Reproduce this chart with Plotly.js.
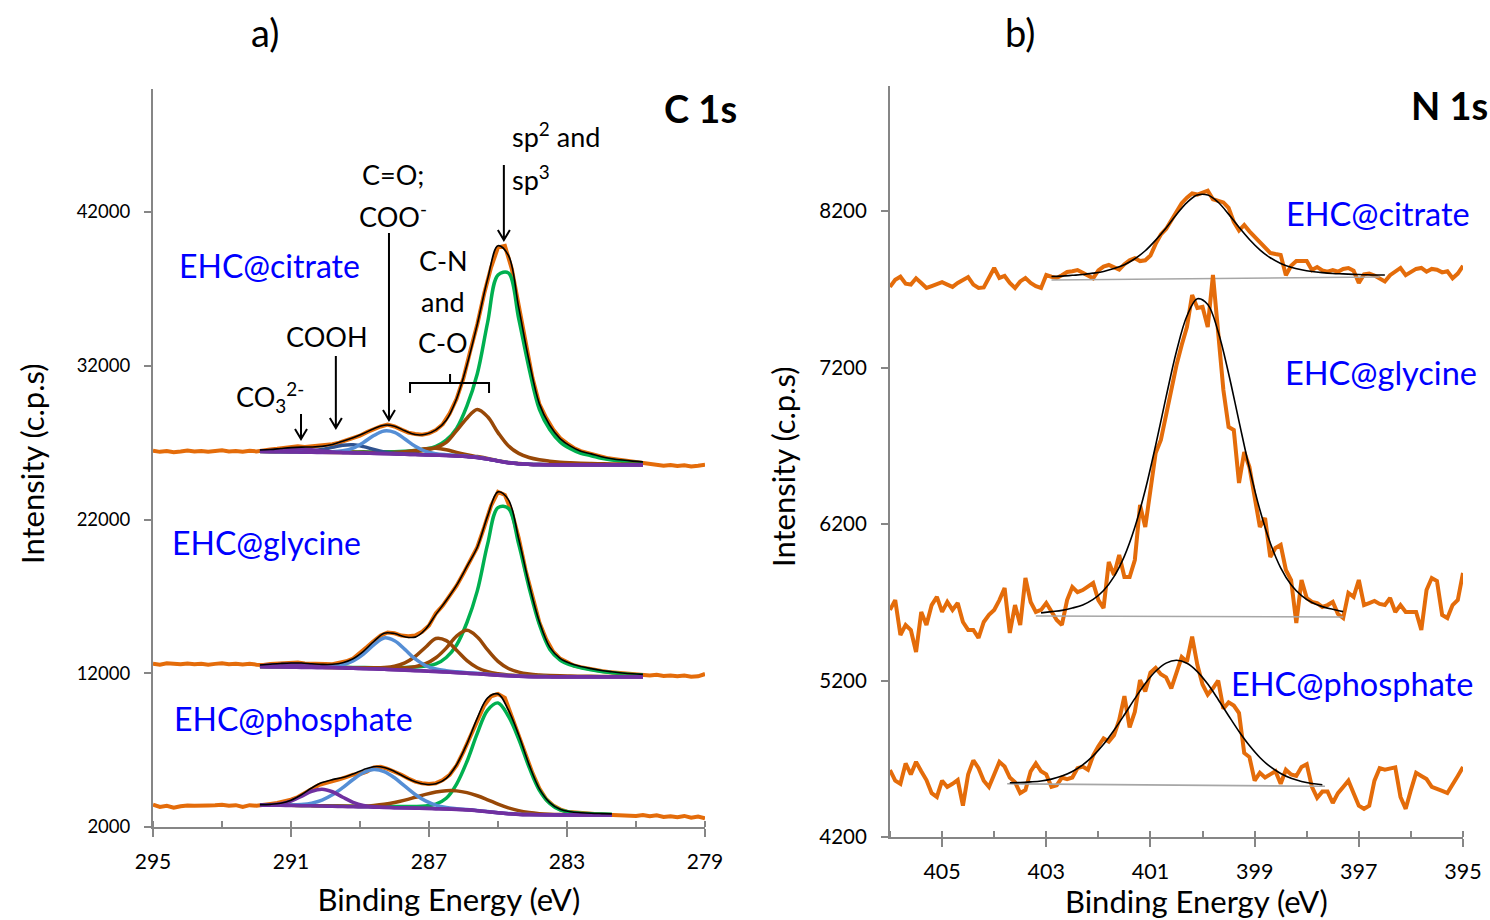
<!DOCTYPE html>
<html>
<head>
<meta charset="utf-8">
<script src="https://cdn.plot.ly/plotly-3.0.1.min.js"></script>
<style>html,body{margin:0;padding:0;background:#fff;}#chart{width:1490px;height:920px;}</style>
</head>
<body>
<div id="chart"></div>
<script>
// ---------- C 1s (panel a) ----------
const c1sEnergy = [295.0,294.8,294.6,294.4,294.2,294.0,293.8,293.6,293.4,293.2,293.0,292.8,292.6,292.4,292.2,292.0,291.8,291.6,291.4,291.2,291.0,290.8,290.6,290.4,290.2,290.0,289.8,289.6,289.4,289.2,289.0,288.8,288.6,288.4,288.2,288.0,287.8,287.6,287.4,287.2,287.0,286.8,286.6,286.4,286.2,286.0,285.8,285.6,285.4,285.2,285.0,284.8,284.6,284.4,284.2,284.0,283.8,283.6,283.4,283.2,283.0,282.8,282.6,282.4,282.2,282.0,281.8,281.6,281.4,281.2,281.0,280.8,280.6,280.4,280.2,280.0,279.8,279.6,279.4,279.2,279.0];

const c1sCitrateRaw = [26480,26400,26450,26380,26420,26480,26430,26460,26410,26470,26500,26430,26460,26400,26470,26430,26520,26560,26600,26650,26700,26760,26720,26750,26790,26820,26900,27000,27150,27300,27450,27680,27900,28050,28180,28050,27850,27650,27560,27520,27600,27820,28200,28900,29850,31200,33000,34700,36700,38400,39700,39800,38300,35900,33400,31200,29500,28600,27850,27300,26950,26650,26450,26320,26180,26060,25980,25920,25860,25800,25760,25680,25600,25560,25500,25550,25480,25520,25450,25500,25560];
const c1sGlycineRaw = [12620,12560,12650,12600,12580,12640,12590,12620,12560,12610,12650,12590,12620,12570,12610,12560,12540,12600,12630,12680,12660,12700,12640,12620,12560,12600,12590,12660,12780,12950,13300,13700,14100,14450,14650,14600,14450,14400,14450,14700,15100,15900,16400,17000,17700,18500,19400,20200,21500,22900,23800,23600,22500,20800,18700,16900,15300,14200,13400,12950,12700,12500,12400,12300,12230,12150,12080,12050,11980,11950,11920,11880,11850,11900,11820,11860,11800,11850,11780,11800,11950];
const c1sPhosphateRaw = [3450,3300,3380,3250,3350,3400,3380,3420,3400,3410,3450,3380,3420,3300,3420,3380,3470,3500,3560,3650,3780,3950,4200,4450,4720,4850,4950,5100,5250,5400,5450,5600,5880,5920,5780,5600,5400,5150,4950,4850,4800,4850,5050,5400,6000,6900,7900,9050,9900,10500,10650,10400,9150,8000,6700,5500,4500,3800,3400,3150,3000,2950,2900,2870,2850,2820,2800,2780,2760,2800,2720,2780,2700,2760,2650,2700,2640,2720,2600,2680,2560];

// fit grid (components = background + peak)
const fitEnergy = [291.9,291.6,291.3,291.0,290.7,290.4,290.1,289.8,289.5,289.2,288.9,288.6,288.3,288.0,287.7,287.4,287.1,286.8,286.5,286.2,285.9,285.6,285.3,285.0,284.7,284.4,284.1,283.8,283.5,283.2,282.9,282.6,282.3,282.0,281.7,281.4,281.1,280.8];

// citrate
const citBackground = [26420,26410,26400,26390,26380,26370,26360,26350,26340,26330,26320,26300,26280,26260,26240,26220,26200,26180,26160,26130,26090,26030,25930,25800,25690,25620,25585,25565,25555,25550,25550,25550,25550,25550,25550,25550,25550,25550];
const citSp2 = [26438,26430,26423,26416,26410,26405,26400,26397,26395,26395,26400,26395,26400,26410,26440,26490,26580,26750,27160,27930,29390,31480,34830,37900,38040,35070,31835,29165,27855,27050,26600,26300,26150,25980,25870,25790,25730,25690];
const citCN1 = [26440,26430,26422,26414,26406,26398,26390,26383,26377,26372,26370,26360,26355,26360,26380,26420,26510,26680,27010,27780,28590,29160,28680,27650,26790,26300,26035,25885,25795,25730,25690,25660,25640,25625,25610,25600,25592,25585];
const citCN2 = [26428,26418,26409,26400,26391,26382,26373,26365,26357,26350,26345,26335,26335,26350,26400,26490,26600,26640,26540,26360,26210,26095,25970,25828,25712,25638,25600,25578,25567,25561,25560,25559,25558,25558,25557,25557,25556,25556];
const citCO = [26430,26421,26413,26405,26398,26392,26390,26400,26470,26650,27010,27460,27760,27670,27240,26760,26430,26280,26210,26160,26112,26048,25945,25813,25702,25631,25595,25575,25565,25560,25559,25559,25559,25559,25558,25558,25558,25558];
const citCOOH = [26432,26425,26420,26418,26425,26460,26550,26690,26830,26860,26740,26550,26400,26315,26268,26238,26214,26192,26171,26140,26100,26039,25939,25809,25698,25628,25593,25573,25563,25558,25557,25557,25557,25556,25556,25556,25556,25556];
const citCO3 = [26450,26480,26530,26575,26580,26530,26455,26395,26362,26342,26328,26305,26285,26265,26245,26225,26205,26185,26165,26135,26095,26035,25935,25805,25695,25625,25590,25570,25560,25555,25555,25555,25555,25555,25555,25555,25555,25555];
const citEnvelope = [26518,26554,26617,26678,26710,26717,26758,26880,27091,27319,27593,27905,28135,28070,27773,27523,27539,27827,28456,29855,32047,34707,37649,39805,39187,35792,32323,29521,28130,27264,26771,26440,26269,26082,25956,25866,25797,25750];

// glycine
const glyBackground = [12420,12410,12400,12390,12380,12370,12360,12350,12335,12320,12300,12280,12255,12230,12200,12170,12140,12110,12075,12040,12000,11960,11915,11870,11830,11800,11780,11770,11765,11760,11760,11760,11760,11760,11760,11760,11760,11760];
const glySp2 = [12436,12427,12420,12413,12406,12400,12395,12391,12383,12377,12370,12363,12359,12360,12374,12405,12470,12606,13025,13840,15300,17360,20415,22770,22730,20400,17580,15170,13565,12860,12540,12360,12230,12120,12038,11969,11917,11882];
const glyCN1 = [12435,12426,12417,12409,12401,12393,12386,12380,12370,12361,12350,12342,12335,12340,12360,12430,12620,13010,13635,14420,14790,14360,13515,12770,12310,12070,11950,11890,11855,11830,11818,11808,11800,11794,11790,11786,11783,11780];
const glyCN2 = [12432,12423,12414,12406,12398,12390,12383,12377,12368,12360,12352,12355,12375,12460,12680,13090,13690,14260,14125,13490,12820,12360,12105,11970,11890,11842,11812,11796,11787,11779,11777,11775,11774,11773,11772,11771,11770,11770];
const glyCO = [12432,12424,12417,12411,12407,12406,12415,12450,12555,12800,13250,13840,14295,14110,13550,12930,12500,12280,12165,12095,12040,11992,11942,11893,11850,11818,11796,11785,11779,11773,11772,11771,11771,11770,11770,11769,11769,11769];
const glyCO3 = [12480,12530,12570,12590,12570,12510,12440,12385,12350,12327,12305,12285,12260,12235,12205,12175,12145,12115,12080,12045,12005,11965,11920,11875,11835,11805,11785,11775,11770,11765,11765,11765,11765,11765,11765,11765,11765,11765];
const glyEnvelope = [12535,12590,12638,12669,12662,12619,12579,12583,12686,12945,13427,14065,14604,14585,14369,14350,14865,15831,16730,17730,18955,20197,22237,23798,23295,20735,17803,15336,13696,12967,12632,12439,12300,12182,12095,12020,11964,11926];

// phosphate (fit ends at 281.7 eV)
const phoBackground = [3420,3415,3408,3398,3388,3375,3360,3345,3330,3315,3300,3285,3270,3255,3240,3225,3210,3190,3170,3145,3110,3060,2995,2920,2860,2820,2800,2790,2785,2780,2780,2780,2780,2780,2780,null,null,null];
const phoSp2 = [3430,3426,3420,3411,3403,3392,3379,3367,3356,3346,3338,3331,3328,3330,3330,3335,3370,3490,3870,4795,6260,8090,9605,10070,9210,7720,5900,4390,3535,3110,2960,2900,2865,2845,2830,null,null,null];
const phoCN = [3430,3425,3419,3410,3401,3390,3378,3367,3358,3355,3360,3400,3475,3590,3746,3932,4121,4273,4358,4350,4237,4033,3771,3491,3248,3063,2941,2865,2825,2805,2798,2795,2793,2792,2791,null,null,null];
const phoCO = [3428,3425,3423,3428,3463,3555,3750,4090,4560,5090,5530,5733,5605,5200,4652,4117,3702,3426,3270,3190,3135,3078,3009,2932,2871,2830,2810,2800,2794,2789,2789,2789,2789,2788,2788,null,null,null];
const phoCO3 = [3425,3442,3508,3688,3995,4323,4460,4293,3937,3605,3400,3312,3278,3260,3245,3230,3215,3195,3175,3150,3115,3065,3000,2925,2865,2825,2805,2795,2790,2785,2785,2785,2785,2785,2785,null,null,null];
const phoEnvelope = [3453,3473,3546,3743,4098,4535,4887,5082,5221,5451,5728,5921,5876,5615,5253,4939,4778,4814,5163,6050,7417,9086,10400,10658,9614,7978,6056,4480,3589,3149,2992,2929,2892,2870,2854,null,null,null];

// ---------- N 1s (panel b) ----------
const n1sEnergy = [406.0,405.9,405.8,405.7,405.6,405.5,405.4,405.3,405.2,405.1,405.0,404.9,404.8,404.7,404.6,404.5,404.4,404.3,404.2,404.1,404.0,403.9,403.8,403.7,403.6,403.5,403.4,403.3,403.2,403.1,403.0,402.9,402.8,402.7,402.6,402.5,402.4,402.3,402.2,402.1,402.0,401.9,401.8,401.7,401.6,401.5,401.4,401.3,401.2,401.1,401.0,400.9,400.8,400.7,400.6,400.5,400.4,400.3,400.2,400.1,400.0,399.9,399.8,399.7,399.6,399.5,399.4,399.3,399.2,399.1,399.0,398.9,398.8,398.7,398.6,398.5,398.4,398.3,398.2,398.1,398.0,397.9,397.8,397.7,397.6,397.5,397.4,397.3,397.2,397.1,397.0,396.9,396.8,396.7,396.6,396.5,396.4,396.3,396.2,396.1,396.0,395.9,395.8,395.7,395.6,395.5,395.4,395.3,395.2,395.1,395.0];

const n1sCitrateRaw = [7715,7760,7780,7735,7730,7770,7740,7708,7720,7730,7745,7730,7715,7740,7760,7778,7730,7708,7712,7780,7836,7772,7785,7740,7708,7750,7772,7740,7720,7708,7791,7780,7772,7790,7810,7815,7823,7805,7785,7770,7820,7845,7855,7840,7825,7860,7885,7898,7880,7885,7915,7990,8050,8085,8140,8200,8250,8285,8312,8305,8320,8330,8275,8265,8255,8220,8130,8075,8111,8070,8034,7995,7965,7932,7925,7919,7790,7850,7880,7880,7880,7823,7842,7820,7812,7823,7812,7830,7836,7818,7740,7795,7800,7788,7772,7750,7790,7815,7836,7790,7810,7830,7836,7812,7830,7825,7808,7815,7770,7800,7850];
const n1sGlycineRaw = [5651,5714,5491,5555,5523,5382,5638,5555,5682,5734,5638,5702,5651,5695,5574,5523,5523,5472,5574,5619,5651,5714,5791,5504,5682,5555,5855,5702,5638,5651,5695,5638,5587,5555,5714,5797,5765,5778,5804,5823,5714,5663,5957,5874,6002,5861,5861,5970,6321,6181,6417,6654,6737,6897,7056,7216,7344,7459,7663,7580,7587,7459,7791,7440,7056,6820,6801,6462,6660,6564,6353,6181,6238,5989,6047,6066,5906,5842,5567,5842,5727,5702,5695,5670,5682,5702,5625,5599,5759,5734,5842,5682,5695,5708,5689,5682,5727,5638,5682,5638,5638,5638,5523,5778,5855,5836,5619,5599,5682,5714,5887];
const n1sPhosphateRaw = [4628,4560,4540,4670,4600,4680,4620,4564,4480,4456,4560,4520,4540,4564,4400,4600,4690,4640,4560,4520,4600,4680,4650,4580,4550,4480,4500,4620,4670,4620,4600,4520,4530,4580,4570,4580,4640,4650,4630,4720,4780,4830,4810,4850,4948,5100,4900,5000,5203,5130,5250,5280,5240,5220,5150,5250,5350,5320,5480,5300,5175,5110,5150,5200,5020,5060,5040,4992,4737,4711,4560,4610,4580,4600,4620,4540,4630,4600,4590,4647,4665,4520,4450,4490,4490,4417,4480,4520,4560,4480,4400,4380,4400,4560,4640,4630,4640,4645,4456,4380,4500,4610,4590,4570,4520,4510,4495,4481,4530,4590,4647];

const n1sCitFitEnergy = [402.9,402.7,402.5,402.3,402.1,401.9,401.7,401.5,401.3,401.1,400.9,400.7,400.5,400.3,400.1,399.9,399.7,399.5,399.3,399.1,398.9,398.7,398.5,398.3,398.1,397.9,397.7,397.5,397.3,397.1,396.9,396.7,396.5];
const n1sCitFit = [7781,7784,7789,7794,7803,7814,7832,7857,7895,7946,8014,8092,8178,8254,8302,8302,8256,8180,8096,8018,7952,7901,7865,7840,7824,7813,7806,7801,7798,7795,7793,7791,7791];
const n1sGlyFitEnergy = [403.1,402.9,402.7,402.5,402.3,402.1,401.9,401.7,401.5,401.3,401.1,400.9,400.7,400.5,400.3,400.1,399.9,399.7,399.5,399.3,399.1,398.9,398.7,398.5,398.3,398.1,397.9,397.7,397.5,397.3];
const n1sGlyFit = [5632,5640,5648,5663,5683,5718,5775,5864,5995,6179,6417,6703,7012,7304,7529,7639,7603,7428,7162,6856,6555,6291,6079,5920,5812,5742,5698,5672,5655,5640];
const n1sPhoFitEnergy = [403.7,403.5,403.3,403.1,402.9,402.7,402.5,402.3,402.1,401.9,401.7,401.5,401.3,401.1,400.9,400.7,400.5,400.3,400.1,399.9,399.7,399.5,399.3,399.1,398.9,398.7,398.5,398.3,398.1,397.9,397.7];
const n1sPhoFit = [4547,4548,4552,4558,4570,4589,4618,4661,4718,4792,4882,4981,5084,5181,5259,5311,5329,5310,5257,5177,5079,4975,4874,4784,4708,4649,4606,4575,4555,4542,4534];

const n1sCitBaseEnergy = [402.9,396.6];
const n1sCitBase = [7759,7778];
const n1sGlyBaseEnergy = [403.2,397.3];
const n1sGlyBase = [5612,5606];
const n1sPhoBaseEnergy = [403.75,397.65];
const n1sPhoBase = [4540,4524];

// ---------- styles ----------
const ORANGE = '#E46C0A', GREEN = '#00B050', BROWN = '#984807', LBLUE = '#558ED5',
      DBLUE = '#2F528F', PURPLE = '#7030A0', BLACK = '#000000', GREY = '#A6A6A6', AXIS = '#868686';

function ln(x, y, color, width, shape, xa, ya) {
  return {x: x, y: y, type: 'scatter', mode: 'lines', hoverinfo: 'skip',
          line: {color: color, width: width, shape: shape || 'linear', smoothing: 1},
          xaxis: xa || 'x', yaxis: ya || 'y', connectgaps: false};
}

const traces = [];
// citrate C1s
traces.push(ln(c1sEnergy, c1sCitrateRaw, ORANGE, 4));
traces.push(ln(fitEnergy, citSp2, GREEN, 3.5, 'spline'));
traces.push(ln(fitEnergy, citCN1, BROWN, 3.5, 'spline'));
traces.push(ln(fitEnergy, citCN2, BROWN, 3.5, 'spline'));
traces.push(ln(fitEnergy, citCOOH, DBLUE, 3.5, 'spline'));
traces.push(ln(fitEnergy, citCO, LBLUE, 3.5, 'spline'));
traces.push(ln(fitEnergy, citCO3, PURPLE, 3.5, 'spline'));
traces.push(ln(fitEnergy, citBackground, PURPLE, 3.5, 'spline'));
traces.push(ln(fitEnergy, citEnvelope, BLACK, 1.6, 'spline'));
// glycine C1s
traces.push(ln(c1sEnergy, c1sGlycineRaw, ORANGE, 4));
traces.push(ln(fitEnergy, glySp2, GREEN, 3.5, 'spline'));
traces.push(ln(fitEnergy, glyCN1, BROWN, 3.5, 'spline'));
traces.push(ln(fitEnergy, glyCN2, BROWN, 3.5, 'spline'));
traces.push(ln(fitEnergy, glyCO, LBLUE, 3.5, 'spline'));
traces.push(ln(fitEnergy, glyCO3, PURPLE, 3.5, 'spline'));
traces.push(ln(fitEnergy, glyBackground, PURPLE, 3.5, 'spline'));
traces.push(ln(fitEnergy, glyEnvelope, BLACK, 1.6, 'spline'));
// phosphate C1s
traces.push(ln(c1sEnergy, c1sPhosphateRaw, ORANGE, 4));
traces.push(ln(fitEnergy, phoSp2, GREEN, 3.5, 'spline'));
traces.push(ln(fitEnergy, phoCN, BROWN, 3.5, 'spline'));
traces.push(ln(fitEnergy, phoCO, LBLUE, 3.5, 'spline'));
traces.push(ln(fitEnergy, phoCO3, PURPLE, 3.5, 'spline'));
traces.push(ln(fitEnergy, phoBackground, PURPLE, 3.5, 'spline'));
traces.push(ln(fitEnergy, phoEnvelope, BLACK, 1.6, 'spline'));
// N1s
traces.push(ln(n1sEnergy, n1sCitrateRaw, ORANGE, 4, 'linear', 'x2', 'y2'));
traces.push(ln(n1sCitBaseEnergy, n1sCitBase, GREY, 1.6, 'linear', 'x2', 'y2'));
traces.push(ln(n1sCitFitEnergy, n1sCitFit, BLACK, 1.6, 'spline', 'x2', 'y2'));
traces.push(ln(n1sEnergy, n1sGlycineRaw, ORANGE, 4, 'linear', 'x2', 'y2'));
traces.push(ln(n1sGlyBaseEnergy, n1sGlyBase, GREY, 1.6, 'linear', 'x2', 'y2'));
traces.push(ln(n1sGlyFitEnergy, n1sGlyFit, BLACK, 1.6, 'spline', 'x2', 'y2'));
traces.push(ln(n1sEnergy, n1sPhosphateRaw, ORANGE, 4, 'linear', 'x2', 'y2'));
traces.push(ln(n1sPhoBaseEnergy, n1sPhoBase, GREY, 1.6, 'linear', 'x2', 'y2'));
traces.push(ln(n1sPhoFitEnergy, n1sPhoFit, BLACK, 1.6, 'spline', 'x2', 'y2'));

const FONT = 'Lato, "Open Sans", sans-serif';
const axisCommon = {showline: true, linecolor: AXIS, linewidth: 2, showgrid: false, zeroline: false,
  ticks: 'outside', tickcolor: AXIS, tickwidth: 2, fixedrange: true};

function txt(text, x, y, size, color, opts) {
  return Object.assign({text: text, x: x, y: y, xref: 'x', yref: 'y', showarrow: false,
    font: {family: FONT, size: size, color: color || '#000'}, xanchor: 'center', yanchor: 'middle'}, opts || {});
}

const annotations = [
  txt('a)', 0.1779, 0.9652, 38, '#000', {xref: 'paper', yref: 'paper'}),
  txt('b)', 0.6846, 0.9652, 38, '#000', {xref: 'paper', yref: 'paper'}),
  txt('<b>C 1s</b>', 0.4698, 0.8826, 38, '#000', {xref: 'paper', yref: 'paper'}),
  txt('<b>N 1s</b>', 0.9725, 0.8859, 38, '#000', {xref: 'paper', yref: 'paper'}),
  // y-axis titles
  txt('Intensity (c.p.s)', 0.02148, 0.4957, 31, '#000', {xref: 'paper', yref: 'paper', textangle: -90}),
  txt('Intensity (c.p.s)', 0.52550, 0.4935, 31, '#000', {xref: 'paper', yref: 'paper', textangle: -90}),
  txt('sp<sup>2</sup> and', 284.66, 47000, 27, '#000', {xanchor: 'left'}),
  txt('sp<sup>3</sup>', 284.66, 44200, 27, '#000', {xanchor: 'left'}),
  txt('C=O;', 288.04, 44407, 27),
  txt('COO<sup>-</sup>', 288.04, 41805, 27),
  txt('COOH', 289.96, 33935, 27),
  txt('CO<sub>3</sub><sup>2-</sup>', 291.61, 29967, 27),
  txt('C-N', 286.59, 38878, 27),
  txt('and', 286.59, 36211, 27),
  txt('C-O', 286.59, 33545, 27),
  txt('EHC@citrate', 291.61, 38553, 32, '#0000FF'),
  txt('EHC@glycine', 291.72, 20472, 32, '#0000FF'),
  txt('EHC@phosphate', 290.94, 9089, 32, '#0000FF'),
  txt('EHC@citrate', 396.64, 8181, 32.5, '#0000FF', {xref: 'x2', yref: 'y2'}),
  txt('EHC@glycine', 396.58, 7165, 32.5, '#0000FF', {xref: 'x2', yref: 'y2'}),
  txt('EHC@phosphate', 397.14, 5178, 32.5, '#0000FF', {xref: 'x2', yref: 'y2'})
];

const arrowLine = {color: '#000', width: 2};
const shapes = [
  // bracket over the C-N / C-O region
  {type: 'path', xref: 'x', yref: 'y', line: arrowLine,
   path: 'M287.55,30228 L287.55,30878 L285.26,30878 L285.26,30228 M286.39,30878 L286.39,31464'},
  // arrows (shaft + open head)
  {type: 'path', xref: 'x', yref: 'y', line: arrowLine,
   path: 'M284.83,45057 L284.83,40179 M284.656,40829 L284.83,40179 L285.004,40829'},
  {type: 'path', xref: 'x', yref: 'y', line: arrowLine,
   path: 'M288.16,40635 L288.16,28472 M287.986,29122 L288.16,28472 L288.334,29122'},
  {type: 'path', xref: 'x', yref: 'y', line: arrowLine,
   path: 'M289.70,32634 L289.70,27951 M289.526,28601 L289.70,27951 L289.874,28601'},
  {type: 'path', xref: 'x', yref: 'y', line: arrowLine,
   path: 'M290.71,28862 L290.71,27236 M290.536,27886 L290.71,27236 L290.884,27886'}
];

const PAD = '&nbsp;&nbsp;&nbsp;&nbsp;&nbsp;';
const layout = {
  width: 1490, height: 920,
  margin: {l: 0, r: 0, t: 0, b: 0},
  paper_bgcolor: '#fff', plot_bgcolor: '#fff',
  showlegend: false,
  font: {family: FONT, color: '#000'},
  xaxis: Object.assign({}, axisCommon, {
    domain: [153/1490, 705/1490], range: [295, 279], anchor: 'y',
    tick0: 279, dtick: 4, ticklen: 8, tickfont: {size: 21, family: FONT},
    ticklabelstandoff: 7,
    minor: {tick0: 279, dtick: 2, ticks: 'inside', ticklen: 6, tickwidth: 2, tickcolor: AXIS, showgrid: false},
    title: {text: PAD + 'Binding Energy (eV)', font: {size: 31, family: FONT}, standoff: 17}
  }),
  yaxis: Object.assign({}, axisCommon, {
    domain: [93/920, 831/920], range: [2000, 50000], anchor: 'x',
    tick0: 2000, dtick: 10000, ticklen: 7, tickformat: 'd', tickfont: {size: 18.5, family: FONT},
    ticklabelstandoff: 10
  }),
  xaxis2: Object.assign({}, axisCommon, {
    domain: [890/1490, 1463/1490], range: [406, 395], anchor: 'y2',
    tick0: 395, dtick: 2, ticklen: 8, tickfont: {size: 21.5, family: FONT},
    ticklabelstandoff: 6,
    minor: {tick0: 395, dtick: 1, ticks: 'inside', ticklen: 6, tickwidth: 2, tickcolor: AXIS, showgrid: false},
    title: {text: PAD + 'Binding Energy (eV)', font: {size: 31, family: FONT}, standoff: 8}
  }),
  yaxis2: Object.assign({}, axisCommon, {
    domain: [83/920, 834.2/920], range: [4200, 9000], anchor: 'x2',
    tick0: 4200, dtick: 1000, ticklen: 7, tickformat: 'd', tickfont: {size: 20.5, family: FONT},
    ticklabelstandoff: 10
  }),
  annotations: annotations,
  shapes: shapes
};

Plotly.newPlot('chart', traces, layout, {staticPlot: true, displayModeBar: false});
</script>
</body>
</html>
